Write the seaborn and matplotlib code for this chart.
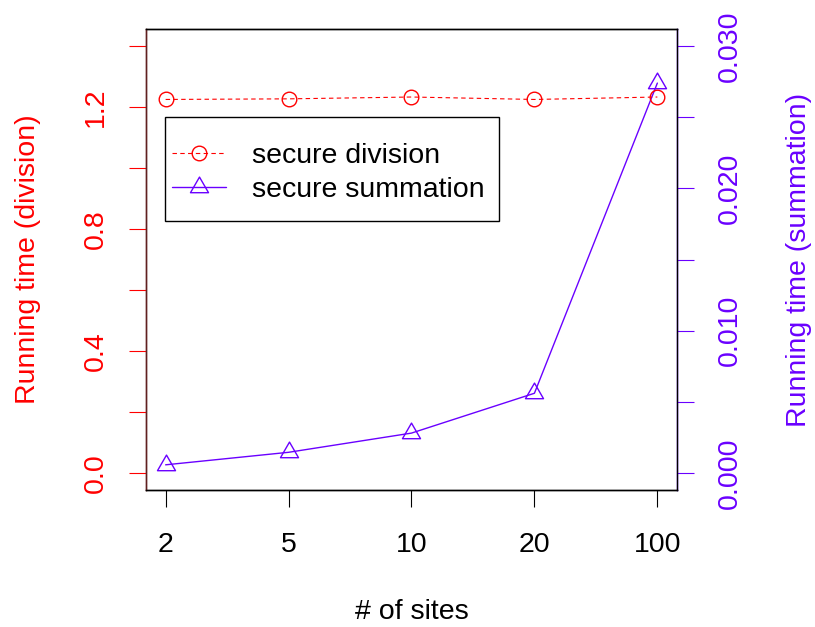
import numpy as np
import pandas as pd
import matplotlib
matplotlib.use("Agg")
import matplotlib.pyplot as plt
from matplotlib.path import Path
from matplotlib.lines import Line2D
from matplotlib.patches import Rectangle
import seaborn as sns

# ---- data ----
sites = ["2", "5", "10", "20", "100"]
division_time = [1.225, 1.227, 1.233, 1.225, 1.233]
summation_time = [0.00057, 0.00145, 0.0028, 0.0056, 0.0274]

left_ticks = [0.0, 0.4, 0.8, 1.2]
left_minor = [0.2, 0.6, 1.0, 1.4]
left_labels = ["0.0", "0.4", "0.8", "1.2"]
right_ticks = [0.0, 0.01, 0.02, 0.03]
right_minor = [0.005, 0.015, 0.025]
right_labels = ["0.000", "0.010", "0.020", "0.030"]

RED = "#FF0000"
PURPLE = "#6A00FF"
FS = 20.5

sns.set_theme(style="white")
plt.rcParams["font.family"] = ["Liberation Sans", "DejaVu Sans"]
plt.rcParams["text.color"] = "black"

# R-style triangle (centroid at data point)
tri = Path([(0, 1), (-0.866, -0.5), (0.866, -0.5), (0, 1)],
           [Path.MOVETO, Path.LINETO, Path.LINETO, Path.CLOSEPOLY])

df = pd.DataFrame({"pos": np.arange(len(sites)),
                   "division": division_time,
                   "summation": summation_time})

fig = plt.figure(figsize=(8.15, 6.27), dpi=100)
ax = fig.add_axes([0.1791, 0.2185, 0.8307 - 0.1791, 0.9537 - 0.2185])
ax2 = ax.twinx()

sns.lineplot(data=df, x="pos", y="division", ax=ax, color=RED,
             linewidth=0.8, linestyle=(0, (4, 3)), marker="o", markersize=10.5,
             markerfacecolor="none", markeredgecolor=RED, markeredgewidth=1.0)
sns.lineplot(data=df, x="pos", y="summation", ax=ax2, color=PURPLE,
             linewidth=1.0, marker=tri, markersize=15,
             markerfacecolor="none", markeredgecolor=PURPLE, markeredgewidth=1.0)

n = len(sites)
pad = 0.04 * (n - 1)
ax.set_xlim(-pad, n - 1 + pad)
ax.set_ylim(0 - 0.04 * 1.4, 1.4 + 0.04 * 1.4)
ax2.set_ylim(0 - 0.04 * 0.03, 0.03 + 0.04 * 0.03)

ax.set_xticks(range(n))
ax.set_xticklabels(sites)
ax.set_yticks(left_ticks)
ax.set_yticks(left_minor, minor=True)
ax.set_yticklabels(left_labels, rotation=90, va="center")
ax2.set_yticks(right_ticks)
ax2.set_yticks(right_minor, minor=True)
ax2.set_yticklabels(right_labels, rotation=90, va="center")

ax.tick_params(axis="x", which="major", direction="out", length=12.5, width=0.8,
               color="black", labelsize=FS, labelcolor="black", pad=17.5, bottom=True)
ax.tick_params(axis="y", which="both", direction="out", length=12.5, width=0.8,
               color=RED, labelsize=FS, labelcolor=RED, pad=14, left=True)
ax2.tick_params(axis="y", which="both", direction="out", length=12.5, width=0.8,
                color=PURPLE, labelsize=FS, labelcolor=PURPLE, pad=16.5, right=True)

for a in (ax, ax2):
    for s in a.spines.values():
        s.set_visible(True)
        s.set_color("black")
        s.set_linewidth(1.0)
ax2.spines["right"].set_color(PURPLE)
ax.spines["left"].set_color("#602020")
ax2.spines["left"].set_color("#602020")

ax.set_xlabel("# of sites", fontsize=FS, color="black")
ax.xaxis.set_label_coords(0.5, -0.265)
ax.xaxis.label.set(va="center", ha="center")
ax.set_ylabel("Running time (division)", fontsize=FS, color=RED)
ax.yaxis.set_label_coords(-0.222, 0.5)
ax.yaxis.label.set(va="center", ha="center", rotation_mode="default")
ax2.set_ylabel("Running time (summation)", fontsize=FS, color=PURPLE, rotation=90)
ax2.yaxis.set_label_coords(1.23, 0.5)
ax2.yaxis.label.set(va="center", ha="center", rotation_mode="default")

handles = [
    Line2D([], [], color=RED, linewidth=0.8, linestyle=(0, (4, 3)), marker="o",
           markersize=10.5, markerfacecolor="none", markeredgecolor=RED, markeredgewidth=1.0),
    Line2D([], [], color=PURPLE, linewidth=1.0, marker=tri, markersize=15,
           markerfacecolor="none", markeredgecolor=PURPLE, markeredgewidth=1.0),
]
leg = ax.legend(handles, ["secure division", "secure summation"], loc="upper left",
                bbox_to_anchor=(0.0358, 0.7679), borderaxespad=0, fontsize=FS,
                frameon=False, handlelength=1.9, handletextpad=0.9, borderpad=0.25,
                labelspacing=0.29, numpoints=1, labelcolor="black")
# R-style legend box
ax.add_patch(Rectangle((0.0358, 0.5835), 0.6648 - 0.0358, 0.809 - 0.5835,
                       transform=ax.transAxes, facecolor="none", edgecolor="black",
                       linewidth=1.0, zorder=5))
ax.set_zorder(ax2.get_zorder() + 1)
ax.patch.set_visible(False)

fig.savefig("out.png", dpi=100)
